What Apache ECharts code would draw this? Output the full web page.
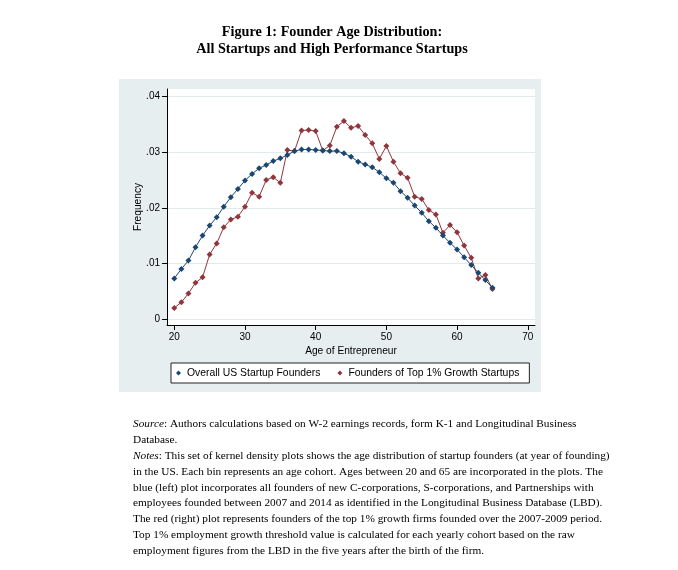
<!DOCTYPE html>
<html>
<head>
<meta charset="utf-8">
<script src="https://cdn.jsdelivr.net/npm/echarts@6/dist/echarts.min.js"></script>
<style>
html,body{margin:0;padding:0;background:#fff;}
#chart{width:678px;height:570px;}
</style>
</head>
<body>
<div id="chart"></div>
<script>
// Ages (categories on the x value axis)
var ages = [20,21,22,23,24,25,26,27,28,29,30,31,32,33,34,35,36,37,38,39,40,41,42,43,44,45,46,47,48,49,50,51,52,53,54,55,56,57,58,59,60,61,62,63,64,65];
// Overall US Startup Founders
var overall = [0.0073,0.0090,0.0105,0.0129,0.0150,0.0168,0.0183,0.0202,0.0219,0.0234,0.0249,0.0261,0.0271,0.0277,0.0284,0.0289,0.0295,0.0302,0.0305,0.0305,0.0304,0.0303,0.0302,0.0302,0.0298,0.0292,0.0283,0.0278,0.0273,0.0264,0.0253,0.0245,0.0230,0.0218,0.0204,0.0191,0.0176,0.0164,0.0150,0.0137,0.0125,0.0111,0.0097,0.0083,0.0070,0.0056];
// Founders of Top 1% Growth Startups
var top1 = [0.0020,0.0030,0.0046,0.0065,0.0075,0.0116,0.0136,0.0165,0.0179,0.0184,0.0202,0.0227,0.0220,0.0250,0.0255,0.0245,0.0304,0.0302,0.0339,0.0340,0.0338,0.0303,0.0312,0.0346,0.0356,0.0344,0.0347,0.0331,0.0316,0.0288,0.0311,0.0283,0.0262,0.0254,0.0220,0.0216,0.0196,0.0188,0.0155,0.0169,0.0156,0.0132,0.0110,0.0073,0.0079,0.0054];
// Tick values
var xTicks = [20,30,40,50,60,70];
var yTicks = [0,0.01,0.02,0.03,0.04];
var seriesNames = ['Overall US Startup Founders','Founders of Top 1% Growth Startups'];

var titleLines = ['Figure 1: Founder Age Distribution:','All Startups and High Performance Startups'];
var noteLines = [
  '{i|Source}: Authors calculations based on W-2 earnings records, form K-1 and Longitudinal Business',
  'Database.',
  '{i|Notes}: This set of kernel density plots shows the age distribution of startup founders (at year of founding)',
  'in the US. Each bin represents an age cohort. Ages between 20 and 65 are incorporated in the plots. The',
  'blue (left) plot incorporates all founders of new C-corporations, S-corporations, and Partnerships with',
  'employees founded between 2007 and 2014 as identified in the Longitudinal Business Database (LBD).',
  'The red (right) plot represents founders of the top 1% growth firms founded over the 2007-2009 period.',
  'Top 1% employment growth threshold value is calculated for each yearly cohort based on the raw',
  'employment figures from the LBD in the five years after the birth of the firm.'
];

function pairs(vals){ return ages.map(function(a,i){ return [a, vals[i]]; }); }

var chart = echarts.init(document.getElementById('chart'), null, {renderer:'canvas'});
var sans = 'Liberation Sans, Arial, Helvetica, sans-serif';
var serif = 'Liberation Serif, Times New Roman, serif';

var graphics = [
  {type:'rect', shape:{x:119,y:79,width:422,height:313}, style:{fill:'#e6eef0'}, z:-10, silent:true}
];
titleLines.forEach(function(t,i){
  graphics.push({type:'text', x:332, y:32+i*17, z:10,
    style:{text:t, font:'bold 14.2px '+serif, fill:'#000', align:'center', verticalAlign:'middle',
      textAlign:'center', textVerticalAlign:'middle'}});
});
noteLines.forEach(function(t,i){
  graphics.push({type:'text', x:133, y:424+i*15.9, z:10,
    style:{text:t, font:'11.3px '+serif, fill:'#000', verticalAlign:'middle', textVerticalAlign:'middle',
      rich:{i:{fontStyle:'italic', fontFamily:serif, fontSize:11.3}}}});
});

chart.setOption({
  animation:false,
  backgroundColor:'#fff',
  graphic: graphics,
  grid:{left:167, top:89, width:368, height:236, show:true, backgroundColor:'#fff', borderWidth:0},
  legend:{
    left:171, top:363, orient:'horizontal',
    data:seriesNames,
    icon:'diamond', itemWidth:5, itemHeight:5, itemGap:17,
    padding:[5,10,5,5],
    backgroundColor:'#fff', borderColor:'#222', borderWidth:1, borderRadius:0,
    textStyle:{fontFamily:sans, fontSize:10.4, color:'#000', padding:[0,0,0,1]}
  },
  xAxis:{
    type:'value', min:18.97, max:71.02,
    name:'Age of Entrepreneur', nameLocation:'middle', nameGap:21,
    nameTextStyle:{fontFamily:sans, fontSize:10.2, color:'#000'},
    axisLine:{show:true, onZero:false, lineStyle:{color:'#000', width:1}},
    axisTick:{show:true, length:5, customValues:xTicks, lineStyle:{color:'#000'}},
    axisLabel:{customValues:xTicks, fontFamily:sans, fontSize:10, color:'#000', margin:7},
    splitLine:{show:false}
  },
  yAxis:{
    type:'value', min:-0.00108, max:0.04137,
    name:'Frequency', nameLocation:'middle', nameGap:24, nameRotate:90, nameMoveOverlap:false,
    nameTextStyle:{fontFamily:sans, fontSize:10.2, color:'#000'},
    axisLine:{show:true, onZero:false, lineStyle:{color:'#000', width:1}},
    axisTick:{show:true, length:5, customValues:yTicks, lineStyle:{color:'#000'}},
    axisLabel:{customValues:yTicks, fontFamily:sans, fontSize:10, color:'#000', margin:7,
      formatter:function(v){ return v===0 ? '0' : v.toFixed(2).replace(/^0/,''); }},
    splitLine:{show:true, lineStyle:{color:'#e1eaed', width:1}}
  },
  series:[
    {name:seriesNames[0], type:'line', data:pairs(overall), symbol:'diamond', symbolSize:6,
     itemStyle:{color:'#1a476f'}, lineStyle:{color:'#1a476f', width:1}, z:3},
    {name:seriesNames[1], type:'line', data:pairs(top1), symbol:'diamond', symbolSize:6,
     itemStyle:{color:'#90353b'}, lineStyle:{color:'#90353b', width:1}, z:2}
  ]
});
</script>
</body>
</html>
